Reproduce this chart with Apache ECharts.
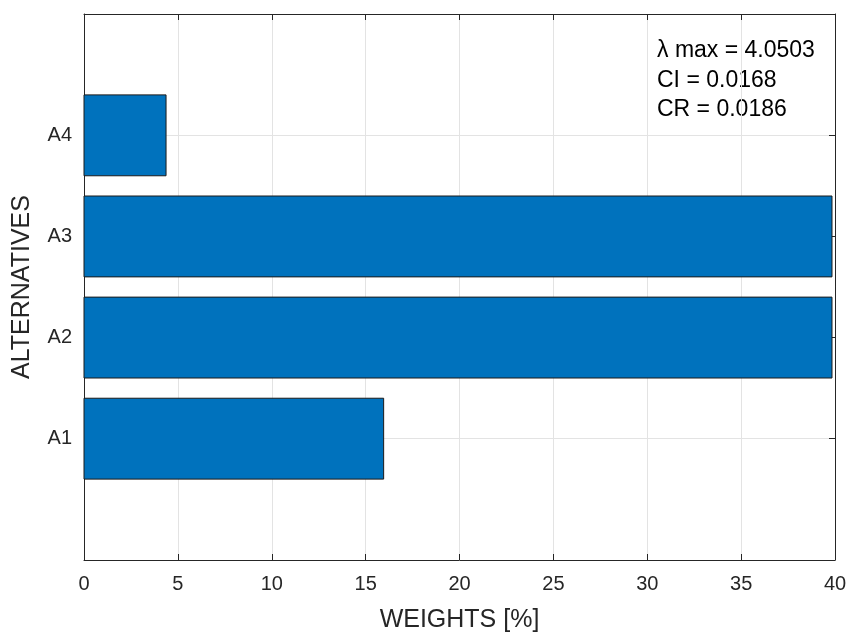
<!DOCTYPE html>
<html>
<head>
<meta charset="utf-8">
<script src="https://cdn.jsdelivr.net/npm/echarts@6/dist/echarts.min.js"></script>
<style>
  html, body { margin: 0; padding: 0; background: #fff; }
  #chart { width: 848px; height: 633px; }
</style>
</head>
<body>
<div id="chart"></div>
<script>
  // data
  const categories = ['A1', 'A2', 'A3', 'A4']
  const weights = [15.96, 39.84, 39.84, 4.37]
  const positions = [1, 2, 3, 4]
  const xTicks = [0, 5, 10, 15, 20, 25, 30, 35, 40]
  const notes = ['λ max = 4.0503', 'CI = 0.0168', 'CR = 0.0186']

  const font = "'Liberation Sans', Arial, Helvetica, sans-serif"
  const ink = '#262626'

  const chart = echarts.init(document.getElementById('chart'))

  const xBase = {
    type: 'value',
    min: xTicks[0],
    max: xTicks[xTicks.length - 1],
    interval: 5,
    axisLine: { show: true, onZero: false, lineStyle: { color: ink, width: 1 } },
    axisTick: { show: true, inside: true, length: 6, lineStyle: { color: ink } }
  }
  const yBase = {
    type: 'value',
    min: -0.2,
    max: 5.2,
    axisLine: { show: true, onZero: false, lineStyle: { color: ink, width: 1 } },
    axisTick: { show: true, inside: true, length: 6, customValues: positions, lineStyle: { color: ink } }
  }

  const option = {
    animation: false,
    textStyle: { fontFamily: font },
    grid: { left: 84, right: 13, top: 14, bottom: 73, outerBoundsMode: 'none' },
    xAxis: [
      Object.assign({}, xBase, {
        position: 'bottom',
        splitLine: { show: true, lineStyle: { color: '#e3e3e3' } },
        axisLabel: { color: ink, fontSize: 20, margin: 14, fontFamily: font },
        name: 'WEIGHTS [%]',
        nameLocation: 'middle',
        nameGap: 48,
        nameTextStyle: { color: ink, fontSize: 25, fontFamily: font }
      }),
      Object.assign({}, xBase, {
        position: 'top',
        splitLine: { show: false },
        axisLabel: { show: false }
      })
    ],
    yAxis: [
      Object.assign({}, yBase, {
        position: 'left',
        splitLine: { show: true, lineStyle: { color: '#e3e3e3' } },
        axisLabel: {
          color: ink, fontSize: 20, margin: 12, fontFamily: font,
          customValues: positions,
          formatter: v => categories[Math.round(v) - 1] || ''
        },
        name: 'ALTERNATIVES',
        nameLocation: 'middle',
        nameGap: 49,
        nameTextStyle: { color: ink, fontSize: 25, fontFamily: font }
      }),
      Object.assign({}, yBase, {
        position: 'right',
        splitLine: { show: false },
        axisLabel: { show: false }
      })
    ],
    series: [
      {
        type: 'custom',
        xAxisIndex: 0,
        yAxisIndex: 0,
        data: weights.map((w, i) => [w, positions[i]]),
        renderItem: (params, api) => {
          const x = api.value(0)
          const y = api.value(1)
          const p0 = api.coord([0, y + 0.4])
          const p1 = api.coord([x, y - 0.4])
          return {
            type: 'rect',
            shape: { x: p0[0], y: p0[1], width: p1[0] - p0[0], height: p1[1] - p0[1] },
            style: { fill: '#0072BD', stroke: '#1a1a1a', lineWidth: 1 }
          }
        }
      }
    ],
    graphic: [
      {
        type: 'text',
        left: 657,
        top: 36,
        style: {
          text: notes.join('\n'),
          fill: '#000',
          font: '23px ' + font,
          lineHeight: 29.5
        }
      }
    ]
  }

  chart.setOption(option)

  window.addEventListener('resize', () => {
    if (chart) {
      chart.resize()
    }
  })
</script>
</body>
</html>
